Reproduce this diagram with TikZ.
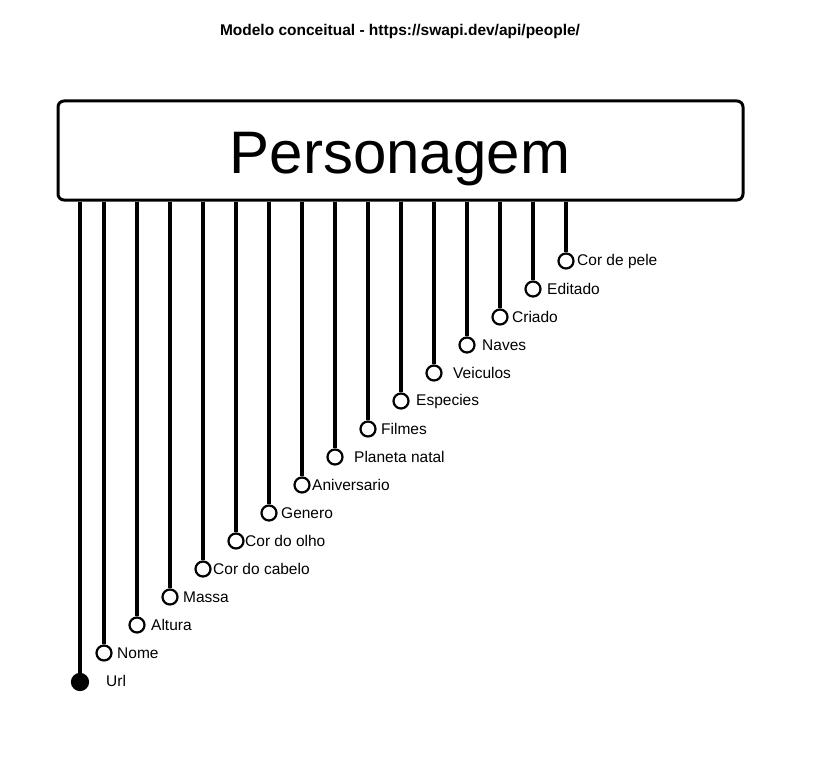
\documentclass[tikz,border=0pt]{standalone}
\usepackage{fontspec}
\setmainfont{Liberation Sans}
\begin{document}
\begin{tikzpicture}[x=1pt,y=-1pt,
  ent/.style={draw=black,line width=3pt,rounded corners=6pt,minimum width=685pt,minimum height=99pt,inner sep=0pt},
  big/.style={inner sep=0pt,font=\fontsize{60}{64}\selectfont},
  attr/.style={circle,draw=black,line width=2.2pt,fill=white,minimum size=15pt,inner sep=0pt},
  key/.style={circle,draw=black,fill=black,line width=1.2pt,minimum size=17pt,inner sep=0pt},
  lbl/.style={anchor=west,inner sep=0pt,font=\fontsize{15.5}{17}\selectfont},
  link/.style={line width=3.2pt}]
\useasboundingbox (0,0) rectangle (814,765);
\node[font=\bfseries\fontsize{15.5}{17}\selectfont] (title) at (400,31) {Modelo conceitual - https://swapi.dev/api/people/};
\node[ent] (ent) at (400.5,150.5) {};
\node[big,anchor=base] (name) at (400,173) {Personagem};
\node[key] (c0) at (80,682) {};
\node[lbl] (l0) at (106,681) {Url};
\draw[link] (ent.south -| c0) -- (c0);
\foreach \i/\x/\y/\lx/\t in {1/104/653/117/Nome,2/137/625/151/Altura,3/170/597/183/Massa,4/203/569/213/Cor do cabelo,5/236/541/245/Cor do olho,6/269/513/281/Genero,7/302/485/312/Aniversario,8/335/457/354/Planeta natal,9/368/429/381/Filmes,10/401/401/416/Especies,11/434/373/453/Veiculos,12/467/345/482/Naves,13/500/317/512/Criado,14/533/289/547/Editado,15/566/261/577/Cor de pele}{
  \node[attr] (c\i) at (\x,\y) {};
  \node[lbl] (l\i) at (\lx,\y) {\t};
  \draw[link] (ent.south -| c\i) -- (c\i);
}
\end{tikzpicture}
\end{document}
